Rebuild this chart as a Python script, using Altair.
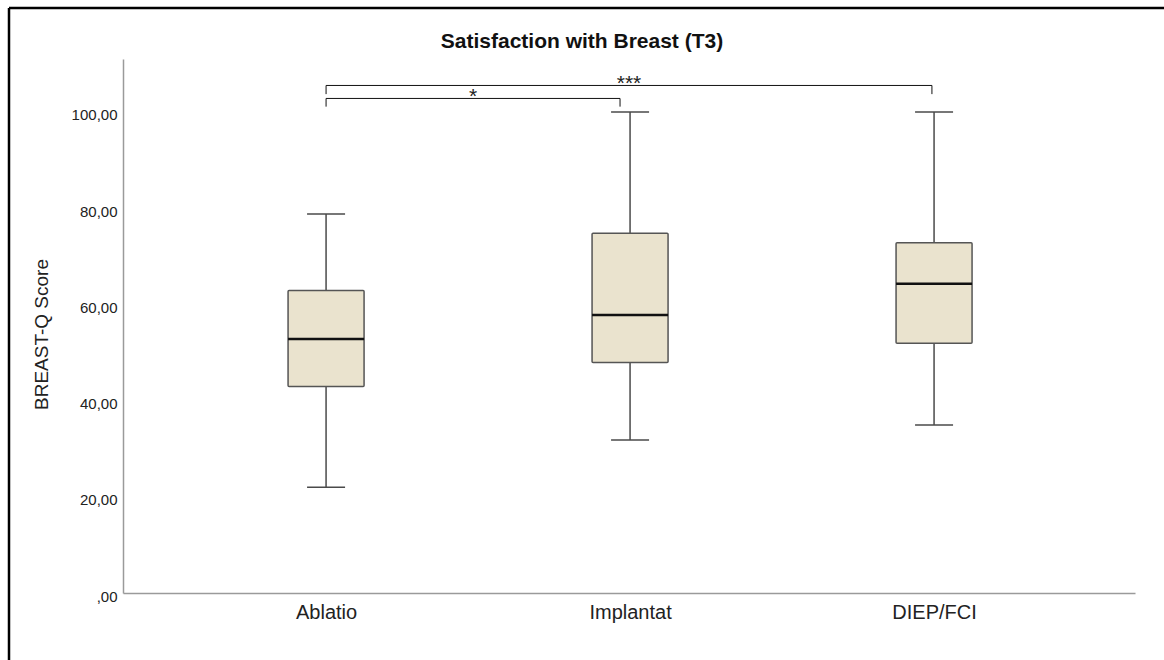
import altair as alt
import pandas as pd

# Box-plot summary per group (BREAST-Q score)
groups = ["Ablatio", "Implantat", "DIEP/FCI"]
positions = [1, 2, 3]
whisker_low = [22.0, 31.8, 34.9]
q1 = [42.9, 47.9, 51.9]
median = [52.8, 57.8, 64.3]
q3 = [62.9, 74.8, 72.8]
whisker_high = [78.8, 100.0, 100.0]

# Significance brackets
br_start = [1.0, 1.0]
br_end = [1.967, 2.993]
br_level = [102.8, 105.5]
br_drop = [101.1, 103.7]
br_label = ["*", "***"]

chart_title = ["Satisfaction with Breast (T3)"]

FONT = "Liberation Sans"
BOX_HALF = 0.125
CAP_HALF = 0.0625

boxes = pd.DataFrame({
    "group": groups, "pos": positions, "low": whisker_low, "q1": q1,
    "median": median, "q3": q3, "high": whisker_high,
})
brackets = pd.DataFrame({
    "x1": br_start, "x2": br_end, "level": br_level, "drop": br_drop, "label": br_label,
})

label_array = "[" + ",".join(f"'{g}'" for g in groups) + "]"

x_scale = alt.Scale(domain=[0.332, 3.661], nice=False, zero=False)
y_scale = alt.Scale(domain=[0, 111], nice=False)

x_axis = alt.Axis(
    values=positions, labelExpr=f"{label_array}[datum.value-1]", title=None,
    grid=False, ticks=False, domainColor="#9a9a9a", domainWidth=1.5,
    labelFont=FONT, labelFontSize=20, labelColor="#222222", labelPadding=9,
)
y_axis = alt.Axis(
    values=[0, 20, 40, 60, 80, 100],
    labelExpr="datum.value == 0 ? ',00' : replace(format(datum.value, '.2f'), '.', ',')",
    title="BREAST-Q Score", titleFont=FONT, titleFontSize=19, titleFontWeight="normal",
    titleColor="#222222", titleX=-76, titleY=275, titleBaseline="alphabetic",
    grid=False, ticks=False, domainColor="#9a9a9a", domainWidth=1.5,
    labelFont=FONT, labelFontSize=15, labelColor="#222222", labelPadding=6,
    labelOffset=3,
)

base = alt.Chart(boxes).transform_calculate(
    lo=f"datum.pos - {BOX_HALF}", hi=f"datum.pos + {BOX_HALF}",
    clo=f"datum.pos - {CAP_HALF}", chi=f"datum.pos + {CAP_HALF}",
)

whisker = base.mark_rule(color="#4a4a4a", strokeWidth=1.5).encode(
    x=alt.X("pos:Q", scale=x_scale, axis=x_axis),
    y=alt.Y("low:Q", scale=y_scale, axis=y_axis),
    y2="high:Q",
)
cap_low = base.mark_rule(color="#4a4a4a", strokeWidth=1.5).encode(
    x=alt.X("clo:Q", scale=x_scale), x2="chi:Q", y=alt.Y("low:Q", scale=y_scale),
)
cap_high = base.mark_rule(color="#4a4a4a", strokeWidth=1.5).encode(
    x=alt.X("clo:Q", scale=x_scale), x2="chi:Q", y=alt.Y("high:Q", scale=y_scale),
)
box = base.mark_rect(fill="#EAE3CE", stroke="#555555", strokeWidth=1.5, cornerRadius=1).encode(
    x=alt.X("lo:Q", scale=x_scale), x2="hi:Q",
    y=alt.Y("q1:Q", scale=y_scale), y2="q3:Q",
)
med = base.mark_rule(color="#111111", strokeWidth=2.5).encode(
    x=alt.X("lo:Q", scale=x_scale), x2="hi:Q", y=alt.Y("median:Q", scale=y_scale),
)

bbase = alt.Chart(brackets).transform_calculate(mid="(datum.x1 + datum.x2) / 2")
br_h = bbase.mark_rule(color="#111111", strokeWidth=1).encode(
    x=alt.X("x1:Q", scale=x_scale), x2="x2:Q", y=alt.Y("level:Q", scale=y_scale),
)
br_l = bbase.mark_rule(color="#111111", strokeWidth=1).encode(
    x=alt.X("x1:Q", scale=x_scale), y=alt.Y("level:Q", scale=y_scale), y2="drop:Q",
)
br_r = bbase.mark_rule(color="#111111", strokeWidth=1).encode(
    x=alt.X("x2:Q", scale=x_scale), y=alt.Y("level:Q", scale=y_scale), y2="drop:Q",
)
br_t = bbase.mark_text(font=FONT, fontSize=21, color="#222222", baseline="alphabetic",
                       align="center", dy=5).encode(
    x=alt.X("mid:Q", scale=x_scale), y=alt.Y("level:Q", scale=y_scale), text="label:N",
)

# Figure title, centred on the whole figure
title_mark = alt.Chart(pd.DataFrame({"t": chart_title})).mark_text(
    font=FONT, fontSize=21, fontWeight="bold", color="#111111",
    align="center", baseline="alphabetic", clip=False,
).encode(x=alt.value(459), y=alt.value(-11), text="t:N")

# Outer frame (top and left edges of the figure border)
frame_df = pd.DataFrame({"k": [0]})
frame_left = alt.Chart(frame_df).mark_rule(color="#000000", strokeWidth=2.5, clip=False).encode(
    x=alt.value(-114), y=alt.value(-51), y2=alt.value(620),
)
frame_top = alt.Chart(frame_df).mark_rule(color="#000000", strokeWidth=2.5, clip=False).encode(
    x=alt.value(-114), x2=alt.value(1060), y=alt.value(-51),
)

chart = alt.layer(
    whisker, cap_low, cap_high, box, med, br_h, br_l, br_r, br_t,
    title_mark, frame_left, frame_top,
).properties(
    width=1012, height=534,
    autosize=alt.AutoSizeParams(type="none"),
    padding={"left": 123, "top": 59, "right": 29, "bottom": 67},
    background="white",
).configure_view(stroke=None)

chart.save("out.html", embed_options={"renderer": "svg", "actions": False})
